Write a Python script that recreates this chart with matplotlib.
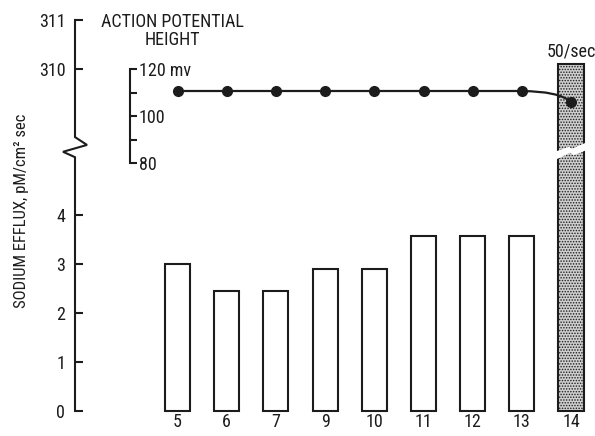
import matplotlib
matplotlib.use("Agg")
import matplotlib.pyplot as plt
from matplotlib import font_manager

# ===== DATA =====
frequencies = ["5", "6", "7", "9", "10", "11", "12", "13", "14"]
sodium_efflux = [3.0, 2.45, 2.45, 2.9, 2.9, 3.57, 3.57, 3.57, 310.1]   # pM/cm2 sec
ap_height = [110.6, 110.6, 110.6, 110.6, 110.6, 110.6, 110.6, 110.6, 106.0]  # mv
efflux_ticks = [0, 1, 2, 3, 4, 310, 311]
ap_ticks = [80, 90, 100, 110, 120]
ap_ticklabels = ["80", "", "100", "", "120 mv"]
stim_label = "50/sec"

# ===== LAYOUT (pixels of the 595x436 figure) =====
W, H = 595, 436
X0, DX = 177.5, 49.2        # first bar centre, bar spacing
Y0, DY = 411.0, 49.0        # efflux 0, px per unit
BREAK_OFFSET = 303.02       # values above the break are shifted down by this
MV_TOP_PX, MV_PER_PX = 69.0, 40.0 / 94.0

# narrow sans if there is one, like the old lettering
names = {f.name for f in font_manager.fontManager.ttflist}
family = "Liberation Sans"
for cand in ["Liberation Sans Narrow", "Roboto Condensed", "Archivo Narrow", "Liberation Sans"]:
    if cand in names:
        family = cand
        break
plt.rcParams["font.family"] = [family, "DejaVu Sans"]
plt.rcParams["hatch.linewidth"] = 0.7
ink = "#1c1c1c"
fs = 13


def broken(v):
    return v - BREAK_OFFSET if v > 100 else v


fig = plt.figure(figsize=(W / 100, H / 100), dpi=100)
ax = fig.add_axes([0, 0, 1, 1])
ax.set_xlim(-X0 / DX, (W - X0) / DX)
ax.set_ylim(-(H - Y0) / DY, Y0 / DY)

# ===== BARS =====
xs = list(range(len(frequencies)))
heights = [broken(v) for v in sodium_efflux]
for i, h in zip(xs, heights):
    if sodium_efflux[i] > 100:
        ax.bar(i, h, width=0.53, facecolor="#cfcfcf", edgecolor=ink,
               linewidth=1.5, hatch="......", zorder=2)
    else:
        ax.bar(i, h, width=0.51, facecolor="white", edgecolor=ink,
               linewidth=1.5, zorder=2)

# break across the tall bar
xb = xs[-1]
gap_x = [xb - 0.33, xb - 0.05, xb + 0.02, xb + 0.33, xb + 0.33, xb + 0.05, xb - 0.02, xb - 0.33]
gap_y = [5.29, 5.39, 5.35, 5.49, 5.33, 5.22, 5.27, 5.12]
ax.fill(gap_x, gap_y, color="white", zorder=3, linewidth=0)

# ===== LEFT AXIS WITH BREAK =====
axis_x = (75 - X0) / DX
zig = 12 / DX
ax.plot([axis_x, axis_x, axis_x - zig, axis_x + zig, axis_x, axis_x],
        [0, 5.18, 5.29, 5.43, 5.59, broken(311)],
        color=ink, linewidth=1.5, solid_joinstyle="miter", clip_on=False)

for s in ["top", "right", "left"]:
    ax.spines[s].set_visible(False)
ax.spines["left"].set_position(("axes", 75 / W))
ax.spines["bottom"].set_position(("data", 0))
ax.spines["bottom"].set_visible(False)

ax.set_yticks([broken(v) for v in efflux_ticks], [str(v) for v in efflux_ticks])
ax.tick_params(axis="y", direction="in", length=6, width=1.5, pad=7,
               labelsize=fs, colors=ink)
ax.set_xticks(xs, frequencies)
ax.tick_params(axis="x", length=0, pad=1.5, labelsize=fs, colors=ink)

# ===== ACTION POTENTIAL AXIS =====
ax2 = ax.twinx()
ax2.set_ylim(120 - (H - MV_TOP_PX) * MV_PER_PX, 120 + MV_TOP_PX * MV_PER_PX)
for s in ["top", "left", "bottom"]:
    ax2.spines[s].set_visible(False)
ax2.spines["right"].set_position(("axes", 130 / W))
ax2.spines["right"].set_bounds(80, 120)
ax2.spines["right"].set_linewidth(1.5)
ax2.spines["right"].set_color(ink)
ax2.set_yticks(ap_ticks, ap_ticklabels)
ax2.tick_params(axis="y", direction="out", length=5, width=1.5, pad=1.5,
                labelsize=fs, colors=ink)

ax2.plot(xs[:-1], ap_height[:-1], color=ink, linewidth=1.6, marker="o",
         markersize=7, zorder=4)
ax2.plot(xs[-1], ap_height[-1], color=ink, marker="o", markersize=7, zorder=4)
ax2.annotate("", xy=(xs[-1], ap_height[-1]), xytext=(xs[-2], ap_height[-2]),
             arrowprops=dict(arrowstyle="-", color=ink, lw=1.6, shrinkA=0, shrinkB=0,
                             connectionstyle="angle3,angleA=0,angleB=-40"))

# ===== TEXTS =====
fig.text(172 / W, 1 - 31 / H, "ACTION POTENTIAL\nHEIGHT", ha="center", va="center",
         fontsize=fs, color=ink, linespacing=1.05)
fig.text(547 / W, 1 - 51 / H, stim_label, ha="left", va="center", fontsize=fs, color=ink)
fig.text(22 / W, 1 - 211 / H, "SODIUM EFFLUX, pM/cm² sec", rotation=90,
         ha="center", va="center", fontsize=12, color=ink)

fig.savefig("out.png", dpi=100)
